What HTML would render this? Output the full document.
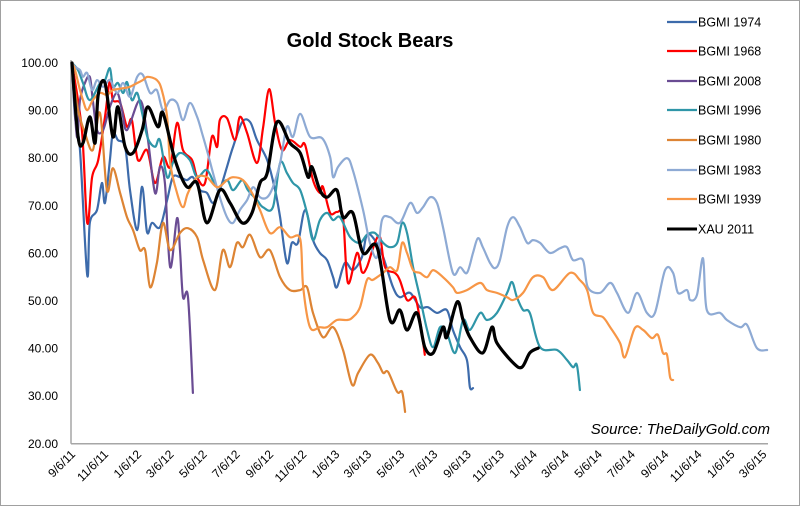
<!DOCTYPE html>
<html><head><meta charset="utf-8"><style>
html,body{margin:0;padding:0;background:#fff;}
svg{display:block;font-family:"Liberation Sans",sans-serif;}
</style></head><body>
<svg id="chart" width="800" height="506" viewBox="0 0 800 506">
<rect x="0.5" y="0.5" width="799" height="505" fill="#fff" stroke="#a0a0a0"/>
<text x="370" y="47" text-anchor="middle" font-size="20" font-weight="bold">Gold Stock Bears</text>
<g id="yaxis"></g>
<g id="xaxis"></g>
<g id="series"></g>
<g id="legend"></g>
<text x="770" y="434" text-anchor="end" font-size="15" font-style="italic">Source: TheDailyGold.com</text>
</svg>
<script>
const yTicks = [100,90,80,70,60,50,40,30,20];
const xTickLabels = ["9/6/11","11/6/11","1/6/12","3/6/12","5/6/12","7/6/12","9/6/12","11/6/12","1/6/13","3/6/13","5/6/13","7/6/13","9/6/13","11/6/13","1/6/14","3/6/14","5/6/14","7/6/14","9/6/14","11/6/14","1/6/15","3/6/15"];
const seriesNames = ["BGMI 1974","BGMI 1968","BGMI 2008","BGMI 1996","BGMI 1980","BGMI 1983","BGMI 1939","XAU 2011"];
const seriesColors = ["#3d6bab","#ff0000","#6a4c93","#2f96a8","#dd8434","#8eaad4","#f79646","#000000"];

// weeks since 9/6/11 and index values
const w1974 = [0,0.8,2.1,4,4.7,6.6,7.9,8.7,10,10.8,12.1,14,15.3,17.2,18.5,19.8,21.1,23.2,25.1,26.6,28.5,30.3,31.9,33.8,35.6,37.2,39,40.9,42.5,44.9,47,48.8,51.5,53.6,54.9,56.7,58,59.6,61.5,63.6,65.4,67.3,68.9,69.9,72,74.1,76.5,77.8,79.9,82.1,84.7,86.5,89.2,91.8,93.9,96.3,98.9,100.5,102.4,104.2,105,105.8];
const v1974 = [100,88.7,81.7,55.5,66.4,69.1,74.8,70.6,79.6,85.3,83.8,82.4,73.3,64.9,74,64.5,66.4,65.5,71.2,76,76,75.4,76,73.3,72.7,70.6,73.3,78.2,82.4,87.6,87.6,83.8,79.6,73.3,67.6,58,62.2,62.2,69.1,62.8,60.1,58.6,55,52.9,58,56.5,59.2,63.9,62.8,59.2,52.9,50.8,51.7,48.7,48.7,47.5,48.1,43.9,40.3,37.6,31.9,31.7];
const w1968 = [0,2.6,4,5.3,6.9,8.7,10,10.8,12.7,14.5,15.8,17.4,19.8,21.9,24,25.9,27.7,29.3,31.7,33,35.1,36.9,38.3,39,40.9,43,44.3,46.2,48.8,50.4,52,53.6,55.4,57.5,60.2,61.5,63.6,65.4,66.2,68.1,69.9,71.5,72.8,75.2,76.5,77.8,79.9,81.3,82.6,85.2,86.5,88.4,90.5,91.8,93.1];
const v1968 = [100,85.9,66.4,76,79.6,88.7,96.4,92.2,91.6,86.6,88,79.6,81.7,74.8,80.3,78.2,87.4,81.7,79.6,76,74.8,84.5,82.4,88,88.4,83.8,88.7,85.3,79,86.3,94.5,87.4,81.7,83.8,82.4,82.8,75.4,72.7,74,68.5,68.7,67.6,53.8,60.1,56.1,57.1,62.2,63.4,57.1,55.9,54.4,50.2,50.8,46,38.7];
const w2008 = [0,1.3,2.1,3.4,4.7,5.5,6.6,8.2,10,11.9,13.2,14.5,17.9,19.8,21.9,23.2,24.5,25.9,27.7,28.5,29.3,30.6,31.9];
const v2008 = [100,84.5,92.2,95.8,97.1,92.2,85.9,85.9,90.8,93.7,90.1,85.9,92.2,85.3,72.7,78.2,74.8,57.1,67.4,60.7,50.8,50.8,30.7];
const w1996 = [0,1.6,2.9,4.7,7.4,8.7,10,10.8,12.1,13.5,14.5,15.8,17.2,18.5,20,21.9,23.2,25.1,26.6,28.5,31.1,33,35.6,38.3,40.9,42.5,44.9,46.4,48.8,50.4,53,54.9,56.7,58.3,60.2,62,63.6,65.4,67.3,68.9,70.7,73.4,76,77.8,79.9,82.1,83.9,85.8,87.1,88.4,90,91.8,93.7,95.3,97.1,98.9,101.1,103.2,105,107.7,109.5,112.1,114.8,116.1,117.4,119,120.8,123.5,128,130.6,132.2,133.2,134];
const v1996 = [100,98.5,95.8,92.2,95.8,96.4,98.9,95,95.8,93.7,96,92.2,93.7,89.5,84.2,82.4,83.8,76,79,81.1,79.6,76,77.5,73.9,75.4,73.3,75.4,73.3,71.2,69.7,69.7,79,76.9,74.8,73.3,68.5,62.8,67,68.5,67,67.6,63.4,62.2,63.9,64.3,62.2,61.3,62.2,66.4,64.3,57.1,50.8,43.9,40.3,44.5,43.3,39.1,46,43.9,47.5,46,47.5,51.7,54,50.8,48.1,47.5,40.3,39.7,37.6,36.1,36.6,31.3];
const w1980 = [0,0.3,1.6,3.4,5.5,7.4,9.2,10.8,12.7,14.5,16.1,17.9,19.3,20.6,22.4,24,25.9,28.5,30.6,33,34.6,37.7,39.8,41.7,43.5,45.1,47,49.6,52.2,54.9,57.5,60.2,62,63.6,66.2,68.9,71.5,73.9,75.5,78.6,80.7,82.1,83.4,85.8,87.1,87.9];
const v1980 = [100,97.1,90.1,85.3,81.7,89.5,73.3,77.9,72.7,67.6,64.9,60.7,60.7,52.9,58,66.4,60.7,64.3,65.3,63.4,58.6,52.3,60.7,57.1,62.2,61.3,63.9,59.2,60.7,55,52.3,52.3,52.9,47.5,42.4,44.5,39.7,32.4,34.9,38.7,37,34.9,35.1,30.9,30.9,26.7];
const w1983 = [0,0.8,2.1,2.9,4,5.3,6.6,8.2,10,11.9,13.5,15.3,17.2,18.7,20.6,22.4,24,25.9,27.7,29.3,31.1,33,34.3,35.6,37.2,39,40.9,42.5,44.3,46.2,47.8,49.6,51.5,53,54.9,56.7,58.3,60.2,62.8,66,68.1,68.9,70.2,72.6,74.1,76.8,78.6,80.5,81.8,83.9,86.5,89.2,91,92.6,94.5,96.3,97.9,100.5,102.4,104.2,105.8,107.1,108.4,110.3,111.6,112.9,114.8,116.4,118.2,120.1,121.6,123.5,126.1,128.8,130.6,132.2,134.8,136.1,139.3,142,143.8,146.7,149.1,151.7,153.8,156.5,158.6,159.9,162.3,163.1,164.9,166.5,167.5,171,172.8,176.3,178.1,180.7,183.4];
const v1983 = [100,99.2,98.5,97.1,97.9,94.3,96.4,95,96.4,93.7,95.8,92.9,97.1,97.5,93.7,94.3,90.1,92.2,91.6,88,91.6,88.7,85.3,81.7,76.9,71.8,67.6,66.4,69.1,71.2,73.9,71.8,71.8,73.9,79,86.6,84.5,89.3,84.5,84.2,80.3,76,78.2,80,77.5,69.1,62.2,59.2,67,67.6,66.4,70.6,68.5,69.7,71.8,70.6,65.5,55.9,57.1,55.9,60.1,63.2,61.3,58,56.9,58.6,65.5,67.6,65.5,62.2,62.8,62.2,60.1,61.1,61.3,58.6,58.6,52.9,51.7,53.8,51.7,47.5,51.7,47.5,47.5,56.5,55.9,51.7,52.3,50.2,51.3,59,48.1,47.5,46,44.5,45,40.1,39.7];
const w1939 = [0,0.8,2.1,2.9,4,5.5,7.4,9.2,10.8,13.5,15.3,17.2,18.7,20,22.4,23.7,25.1,25.9,27.7,29.3,30.6,33,35.6,38.3,40.9,42.5,45.1,47.5,49.6,52.2,54.9,57.5,60.2,61,62.8,65.4,67.3,69.9,72.6,74.1,76,77.8,79.2,80.5,82.1,83.9,85.8,87.1,88.4,90,91.8,93.7,95.3,97.9,100.5,101.6,104.2,107.7,109.5,112.1,114.8,116.4,119,121.6,124.3,126.9,131.4,134,135.9,137.5,140.1,142,144.6,145.9,148.5,150.7,153,154.6,155.9,157,157.8,158.6];
const v1939 = [100,98.5,94.3,92.2,90.1,92.2,93.7,93.3,94.3,94.7,95,95.8,96.4,97.1,96.4,94.3,88.7,79,72.7,69.7,72.7,76,76,73.9,75.4,76,75.4,72.7,69.1,64.3,65.5,63.4,63,52.9,44.5,44.5,44.5,46,46,46.6,48.7,54.4,54.4,55,55.9,57.1,56.5,62.2,60.1,56.5,55.9,55,56.5,55,52.9,51.7,52.3,53.8,52.3,51.7,50.8,50.2,51.7,55,55,52.3,55.9,54.4,52.3,47.5,46.6,44.5,41.2,38.2,44.3,43.9,42.2,42.9,39.1,38.7,34,33.4];
const wXau = [0,1.6,2.9,4.7,6.1,6.9,8.7,10.8,12.1,14,16.1,18.5,20,22.7,24,27.2,30.3,33,35.6,39,41.7,44.9,47.5,49.6,51.5,54.1,57.5,60.2,62.3,63.3,65.4,67.3,69.9,71.5,74.1,76.8,80.5,83.9,86.5,88.4,91,93.1,95.3,97.9,98.9,101.6,103.2,105,108.4,110.8,112.1,116.4,118.7,120.8,123];
const vXau = [100,84.5,83.2,88.7,83.2,93.3,95.8,84.5,90.8,82.4,81.1,85.9,90.8,86.6,89.5,79.6,74,74.8,66.4,73.3,70.6,66.4,68.5,74.8,76.9,87.6,83.2,81.1,76,78.2,73.3,71.8,73.3,67.6,68.5,60.1,61.3,46,48.1,43.9,47.5,40.3,39.1,44.5,42.4,49.8,46,42.4,39.1,44.5,41.2,37,36.1,39.1,40.1];

const weeks = [w1974,w1968,w2008,w1996,w1980,w1983,w1939,wXau];
const vals = [v1974,v1968,v2008,v1996,v1980,v1983,v1939,vXau];

const NS="http://www.w3.org/2000/svg";
const X0=72, PXW=3.79, Y100=63, PX10=47.6;
function xScale(w){return X0+w*PXW;}
function yScale(v){return Y100+(100-v)/10*PX10;}
function mk(tag,attrs,parent){const e=document.createElementNS(NS,tag);for(const k in attrs)e.setAttribute(k,attrs[k]);parent.appendChild(e);return e;}
function smoothPath(p){
  let d='M'+p[0][0].toFixed(1)+','+p[0][1].toFixed(1);
  for(let i=0;i<p.length-1;i++){
    const p0=p[i-1]||p[i],p1=p[i],p2=p[i+1],p3=p[i+2]||p2;
    const c1x=p1[0]+(p2[0]-p0[0])/6,c1y=p1[1]+(p2[1]-p0[1])/6;
    const c2x=p2[0]-(p3[0]-p1[0])/6,c2y=p2[1]-(p3[1]-p1[1])/6;
    d+=' C'+c1x.toFixed(1)+','+c1y.toFixed(1)+' '+c2x.toFixed(1)+','+c2y.toFixed(1)+' '+p2[0].toFixed(1)+','+p2[1].toFixed(1);
  }
  return d;
}

const yax=document.getElementById('yaxis');
const ax=mk('line',{x1:71,y1:60,x2:71,y2:yScale(20),stroke:'#a6a6a6','stroke-width':1.5},yax);


yTicks.forEach(t=>{
  const tx=mk('text',{x:58,y:yScale(t)+4,'text-anchor':'end','font-size':12},yax);
  tx.textContent=t.toFixed(2);
  
  
});
const xax=document.getElementById('xaxis');
const bx=mk('line',{x1:71,y1:yScale(20),x2:768,y2:yScale(20),stroke:'#a6a6a6','stroke-width':1.5},xax);


const d0=Date.UTC(2011,8,6);
xTickLabels.forEach(l=>{
  const p=l.split('/');const d=Date.UTC(2000+ +p[2],+p[0]-1,+p[1]);
  const w=(d-d0)/86400000/7;
  const x=xScale(w)+4, y=455;
  const tx=mk('text',{x:x,y:y,'text-anchor':'end','font-size':12,transform:`rotate(-45 ${x} ${y})`},xax);
  tx.textContent=l;
  
  
});

const sg=document.getElementById('series');
seriesNames.forEach((n,i)=>{
  const pts=weeks[i].map((w,j)=>[xScale(w),yScale(vals[i][j])]);
  const pl=mk('path',{d:smoothPath(pts),fill:'none',stroke:seriesColors[i],'stroke-width':i===7?3.2:2.2,'stroke-linejoin':'round','stroke-linecap':'round'},sg);
  
  
});

const lg=document.getElementById('legend');
const ly=[22,51,81,110,140,170,199,229];
seriesNames.forEach((n,i)=>{
  const g=mk('g',{},lg);
  
  
  mk('line',{x1:667,y1:ly[i],x2:697,y2:ly[i],stroke:seriesColors[i],'stroke-width':i===7?3:2.2},g);
  const t=mk('text',{x:698,y:ly[i]+4.5,'font-size':12.5},g);
  t.textContent=n;
});
</script>
</body></html>
